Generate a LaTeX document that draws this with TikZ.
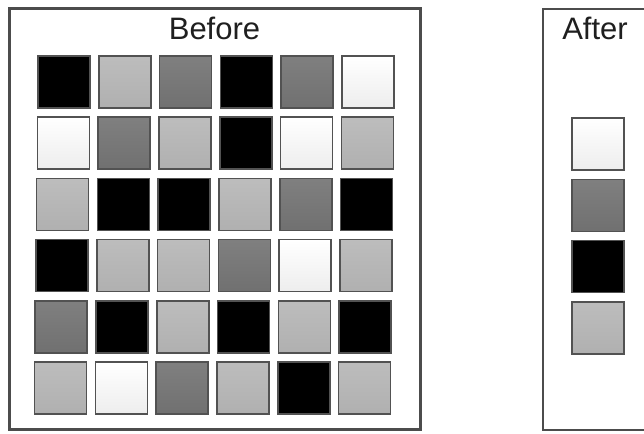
\documentclass[tikz,border=0pt]{standalone}
\usepackage{fontspec}
\setmainfont{Liberation Sans}
\tikzset{
  cell/.style={draw=black!68, line width=1.6pt},
  blk/.style={fill=black},
  lgt/.style={top color=black!26, bottom color=black!31},
  drk/.style={top color=black!50, bottom color=black!56},
  wht/.style={top color=white, bottom color=black!7},
  panel/.style={draw=black!70, line width=2.2pt, fill=white},
  title/.style={anchor=base, text=black!88, font=\fontsize{31}{36}\selectfont}
}
\begin{document}
\begin{tikzpicture}[x=1pt,y=-1pt]
  \useasboundingbox (0,0) rectangle (644,433);
  \clip (0,0) rectangle (644,433);
  % before panel
  \draw[panel] (9.5,8.5) rectangle (420.5,429.5);
  \node[title] (before) at (214.5,40) {Before};
  \foreach \r/\cells in {0/{blk,lgt,drk,blk,drk,wht},
                         1/{wht,drk,lgt,blk,wht,lgt},
                         2/{lgt,blk,blk,lgt,drk,blk},
                         3/{blk,lgt,lgt,drk,wht,lgt},
                         4/{drk,blk,lgt,blk,lgt,blk},
                         5/{lgt,wht,drk,lgt,blk,lgt}}
  {
    \foreach \c [count=\k from 0] in \cells
      \draw[cell,\c] ({38-0.7*\r+60.8*\k},{56+61.2*\r}) rectangle ++(52,52);
  }
  % after panel
  \draw[panel] (543,9) rectangle (700,430);
  \node[title] (after) at (595,40) {After};
  \foreach \c [count=\k from 0] in {wht,drk,blk,lgt}
    \draw[cell,\c] (572,{118+61.3*\k}) rectangle ++(52,52);
\end{tikzpicture}
\end{document}
